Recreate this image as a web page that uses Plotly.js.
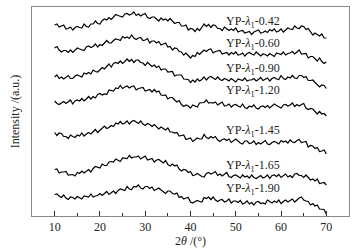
<!DOCTYPE html>
<html>
<head>
<meta charset="utf-8">
<script src="https://cdn.plot.ly/plotly-3.0.1.min.js"></script>
<style>
  html, body { margin: 0; padding: 0; background: #fff; }
  #plot { width: 357px; height: 251px; }
</style>
</head>
<body>
<div id="plot"></div>
<script>
// 2θ scan grid, 10° to 70° in 0.5° steps
const twoTheta = [];
for (let a = 10; a <= 70; a += 0.5) twoTheta.push(a);

const samples = ["0.42", "0.60", "0.90", "1.20", "1.45", "1.65", "1.90"];

// vertical stacking offsets used in the figure
const offsets = [170, 145, 120, 95, 60, 30, 0];

// label height for each curve (same units as the stacked intensity)
const labelY = [194, 172, 147, 125, 85, 50, 27];

// intensities (a.u.)
const yp042 = [21,22,19,20,21,17,17.5,19,16,18.5,19.5,18.5,18,22,19.5,19,22,22,25,22.5,22,25.5,27,26,28.5,26.5,29,31.5,30.5,29.5,29,32,32.5,31,32,34,30.5,32,30,31.5,32.5,28.5,27.5,29,29,27,25,28,26,27,25,27.5,24.5,22.5,23.5,23.5,20,20,21,16,17.5,17,14.5,17.5,15.5,18.5,22,19.5,21.5,18.5,21,20.5,17.5,17.5,15.5,19,17.5,15.5,17,15.5,18,14,15,15.5,13,14,14.5,11.5,14,15,16,13,13.5,15,13.5,16.5,15,17,14,15,17,14,16.5,18,17,16.5,20,18,17.5,20,19.5,16.5,17.5,14.5,11,13,11.5,10,12,8,8];
const yp060 = [23,24.5,21,19,20.5,20.5,18.5,21,18.5,20.5,23,22,21,20.5,24,25,23.5,24.5,27,24,26.5,25.5,28,30.5,28,28,30.5,32,31.5,30.5,34.5,33,34,32.5,36,33,31.5,33,33.5,30.5,31,32.5,28,30,30,28,29.5,26,27,28,24,24.5,21,23,22.5,19.5,19,16,18,15.5,13,15.5,14.5,18.5,16.5,19,21,19.5,21.5,22,18,19.5,20,20.5,17,17.5,18.5,16,18.5,17,19,16,16.5,18,15,17.5,18.5,17,16,19,16.5,15,17,16.5,15,17.5,16,14.5,18,17.5,16.5,19,16,17.5,18,19.5,17,19,21,17,17.5,17.5,13,14.5,14.5,12,10,13,9.5,7.5,9];
const yp090 = [19,21,17.5,19,17,19,20.5,17.5,17.5,20,21,20,19,23,22,23.5,22,26,24.5,24,26.5,28.5,27,29,32,29,32.5,33.5,32.5,35,32.5,34.5,37,34.5,36.5,33.5,36,36,33.5,33,30.5,33.5,31.5,29.5,31,28.5,30,26,27,27,24,24.5,24.5,20,21,21,21,17,16.5,16.5,13.5,16,14,17,15,16.5,19,16,18.5,19.5,18,16.5,19,16.5,15.5,17.5,16.5,15,17.5,16,14,17,16.5,15.5,18,15,16,16,17.5,15,16.5,18.5,15.5,16.5,18,15,17.5,18.5,17,16.5,20.5,17.5,16.5,19,18,20.5,18,17.5,20.5,20.5,18.5,19.5,15.5,15.5,16,13.5,11,9,11,10.5,7.5];
const yp120 = [20,17.5,16.5,18.5,19.5,17.5,19,21,17,20,21,20,22.5,20,22,24.5,22,24.5,23,26.5,27.5,26,27,26.5,31,30.5,30,33,32.5,35.5,32.5,34,35,33,34.5,35,31,32.5,33,33.5,30,30.5,31.5,29,31.5,29,30,26,25.5,26,22,23.5,23.5,21,19,20.5,16.5,14.5,16,15,13,16,15,14,18,18.5,18.5,21,18,18.5,18,19,16,17.5,19,15,15.5,17,14,16,16.5,15,14,17,13.5,12.5,15,14,16,13,12,14.5,15,13.5,15.5,13,15,17,15.5,14,13,16,16.5,15,16,18,14.5,16.5,15,16.5,17.5,13,11.5,12.5,12,9.5,7,9.5,7,7.5,5];
const yp145 = [23.5,20.5,23,22.5,19.5,19.5,17.5,21,19.5,18.5,21,20,23,20,22,23.5,22,24.5,26.5,23.5,26,28,30,27.5,28.5,30.5,29.5,33,32,34.5,32,33,35,32,34.5,35.5,34,32.5,35,32,30.5,32.5,31.5,29.5,31.5,29.5,27,29,27.5,26,28,24,24,23,23.5,20,20.5,21,16.5,17,18,14.5,16.5,18,17,17,21.5,18.5,17.5,19.5,18,19.5,16,14.5,16.5,17,15.5,17,13.5,15,17,15,13,12,15,15,12.5,13,15,11.5,13.5,12,14,15.5,12,11.5,13.5,14.5,13.5,12,15.5,14,15,13,16,14,13.5,15.5,16.5,13.5,14,14.5,9,10.5,10,7.5,8.5,4.5,5,6,2];
const yp165 = [16.5,17,13,14,14,14.5,11,11,11.5,10,13.5,12.5,15,13,14.5,16.5,14,17.5,19.5,18.5,18,22,20.5,20.5,24,24.5,24,27,26,24.5,28,28,27.5,30.5,28,29,29,30,27,28.5,30,26,26.5,27.5,24,26,26.5,24.5,23,25.5,21.5,20,22,20,21,17,15,16.5,16,13.5,14.5,10.5,11,12.5,10.5,9.5,9,12.5,13.5,12,13,14.5,10.5,12,10,12,13.5,9.5,8.5,10.5,11,9.5,8,11,9,10,8,11,8.5,7.5,9.5,10.5,8,9,11,7.5,10.5,11,9.5,11.5,8.5,10,12,9,10.5,8.5,12,12.5,10.5,10.5,8.5,11,8.5,6,7,5,7,2.5,3,3.5,1];
const yp190 = [21.5,22,20,18.5,21,18,16.5,19,18.5,17,19.5,18.5,17,20,19.5,19,22,19,20,20.5,22.5,20.5,22.5,24.5,21.5,23,25,22.5,25.5,27,26,25.5,29.5,27,26.5,29.5,29,31,28,27,29.5,29.5,27.5,29,25.5,26.5,28,26,24,22.5,25,25,22.5,22,23,18.5,19.5,17,18,18.5,14,13,14.5,15.5,14.5,14,18.5,17.5,19,16.5,19,16,14.5,16,16.5,14,15,17,13,15,15,13.5,15.5,12,13,15,12,13.5,11,14,14.5,12.5,13,12,16,14.5,13,15,13.5,16,12.5,14.5,16,14,15.5,17,14,16.5,18,19,16,15,14.5,11,12.5,10,11,7,6.5,6.5,2];

const series = [yp042, yp060, yp090, yp120, yp145, yp165, yp190];

const traces = series.map((vals, i) => ({
  x: twoTheta,
  y: vals.map(v => v + offsets[i]),
  type: "scatter",
  mode: "lines",
  line: { color: "#000", width: 1.2 },
  name: "YP-λ1-" + samples[i],
  hoverinfo: "skip"
}));

const annotations = samples.map((s, i) => ({
  x: 47.4,
  y: labelY[i],
  xref: "x",
  yref: "y",
  xanchor: "left",
  yanchor: "middle",
  showarrow: false,
  text: "YP-<i>λ</i><sub>1</sub>-" + s,
  font: { family: "Liberation Serif, Times New Roman, serif", size: 12, color: "#222" }
}));

const layout = {
  width: 357,
  height: 251,
  margin: { l: 32, r: 8, t: 7, b: 35 },
  paper_bgcolor: "#fff",
  plot_bgcolor: "#fff",
  showlegend: false,
  font: { family: "Liberation Serif, Times New Roman, serif", size: 12, color: "#222" },
  xaxis: {
    range: [5, 75],
    tickvals: [10, 20, 30, 40, 50, 60, 70],
    ticks: "inside",
    ticklen: 5,
    tickcolor: "#333",
    minor: { dtick: 10, tick0: 15, ticks: "inside", ticklen: 3, tickcolor: "#333" },
    showgrid: false,
    zeroline: false,
    showline: true,
    linecolor: "#888",
    linewidth: 1,
    mirror: true,
    tickfont: { size: 12 },
    title: { text: "2<i>θ</i> /(°)", standoff: 3, font: { size: 12 } }
  },
  yaxis: {
    range: [0, 209],
    showticklabels: false,
    ticks: "",
    showgrid: false,
    zeroline: false,
    showline: true,
    linecolor: "#888",
    linewidth: 1,
    mirror: true,
    title: { text: "Intensity /(a.u.)", standoff: 8, font: { size: 12 } }
  },
  annotations: annotations
};

Plotly.newPlot("plot", traces, layout, { displayModeBar: false, staticPlot: true });
</script>
</body>
</html>
